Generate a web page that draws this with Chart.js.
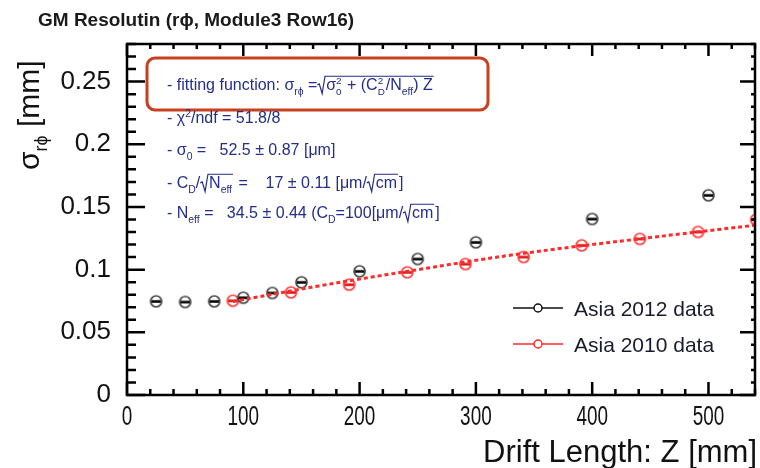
<!DOCTYPE html>
<html lang="en">
<head>
  <meta charset="UTF-8">
  <title>GM Resolution</title>
  <style>
    html, body { margin: 0; padding: 0; background: #fff; }
    #wrap { width: 760px; height: 468px; }
  </style>
</head>
<body>
  <div id="wrap"><canvas id="resChart" width="760" height="468"></canvas></div>

  <script src="https://cdn.jsdelivr.net/npm/chart.js"></script>
  <script>
    // Drift length Z [mm] and resolution sigma [mm]
    const z2012 = [25, 50, 75, 100, 125, 150, 200, 250, 300, 400, 500];
    const sigma2012 = [0.0747, 0.0742, 0.0747, 0.0776, 0.0814, 0.0899, 0.0987, 0.1085, 0.1218, 0.1404, 0.1593];

    const z2010 = [91, 141, 191, 241, 291, 341, 391, 441, 491, 541];
    const sigma2010 = [0.0752, 0.0819, 0.0880, 0.0979, 0.1045, 0.1101, 0.1194, 0.1245, 0.1301, 0.1399];

    // fitted curve for the 2010 data
    const zFit = [91, 165, 250, 337, 440, 545];
    const sigmaFit = [0.0745, 0.0870, 0.1000, 0.1125, 0.1245, 0.1360];

    const xTickValues = [0, 100, 200, 300, 400, 500];
    const yTickValues = [0, 0.05, 0.1, 0.15, 0.2, 0.25];

    const NAVY = '#232d8a';
    const RED = '#ff2a2a';
    const FONT = '"Liberation Sans", Arial, sans-serif';

    function pairs(xs, ys) {
      return xs.map((x, i) => ({ x: x, y: ys[i] }));
    }

    // open circle with a short horizontal error bar through it
    function makeMarker(ring, bar) {
      const r = 5.5;
      const c = document.createElement('canvas');
      c.width = c.height = 15;
      const g = c.getContext('2d');
      const m = 7.5;
      g.strokeStyle = ring;
      g.lineWidth = 1.7;
      g.beginPath();
      g.arc(m, m, r, 0, Math.PI * 2);
      g.stroke();
      g.fillStyle = bar;
      g.fillRect(m - r + 1, m - 1.2, 2 * r - 2, 2.6);
      return c;
    }

    // draws text runs with sub/superscripts and square roots
    function drawRich(ctx, segs, x, y, size) {
      let cx = x;
      for (const s of segs) {
        if (s.sqrt) {
          const lead = size * 0.55;
          const w = drawRich(ctx, s.sqrt, cx + lead, y, size);
          ctx.save();
          ctx.strokeStyle = ctx.fillStyle;
          ctx.lineWidth = 1.2;
          ctx.beginPath();
          ctx.moveTo(cx, y - size * 0.32);
          ctx.lineTo(cx + size * 0.12, y - size * 0.38);
          ctx.lineTo(cx + size * 0.3, y + size * 0.22);
          ctx.lineTo(cx + size * 0.48, y - size * 0.86);
          ctx.lineTo(cx + lead + w + 1, y - size * 0.86);
          ctx.stroke();
          ctx.restore();
          cx += lead + w + 2;
        } else if (s.stack) {
          ctx.font = (size * 0.62) + 'px ' + FONT;
          ctx.fillText(s.stack[0], cx, y - size * 0.38);
          ctx.fillText(s.stack[1], cx, y + size * 0.32);
          cx += Math.max(ctx.measureText(s.stack[0]).width, ctx.measureText(s.stack[1]).width) + 1;
        } else {
          const small = s.sub || s.sup;
          ctx.font = (small ? size * 0.65 : size) + 'px ' + FONT;
          const dy = s.sub ? size * 0.3 : (s.sup ? -size * 0.4 : 0);
          ctx.fillText(s.t, cx, y + dy);
          cx += ctx.measureText(s.t).width;
        }
      }
      return cx - x;
    }

    const fitLines = [
      [{ t: '- fitting function: σ' }, { t: 'rϕ', sub: true }, { t: ' =' },
        { sqrt: [{ t: 'σ' }, { stack: ['2', '0'] }, { t: ' + (C' }, { stack: ['2', 'D'] }, { t: '/N' }, { t: 'eff', sub: true }, { t: ') Z' }] }],
      [{ t: '- χ' }, { t: '2', sup: true }, { t: '/ndf = 51.8/8' }],
      [{ t: '- σ' }, { t: '0', sub: true }, { t: ' =   52.5 ± 0.87 [μm]' }],
      [{ t: '- C' }, { t: 'D', sub: true }, { t: '/' }, { sqrt: [{ t: 'N' }, { t: 'eff', sub: true }] },
        { t: ' =    17 ± 0.11 [μm/' }, { sqrt: [{ t: 'cm' }] }, { t: ']' }],
      [{ t: '- N' }, { t: 'eff', sub: true }, { t: ' =   34.5 ± 0.44 (C' }, { t: 'D', sub: true },
        { t: '=100[μm/' }, { sqrt: [{ t: 'cm' }] }, { t: ']' }]
    ];
    const fitBaselines = [90, 123, 155, 188, 218];

    const legendItems = [
      { label: 'Asia 2012 data', color: '#111', y: 308 },
      { label: 'Asia 2010 data', color: RED, y: 344 }
    ];

    function roundRect(ctx, x, y, w, h, r) {
      ctx.beginPath();
      ctx.moveTo(x + r, y);
      ctx.arcTo(x + w, y, x + w, y + h, r);
      ctx.arcTo(x + w, y + h, x, y + h, r);
      ctx.arcTo(x, y + h, x, y, r);
      ctx.arcTo(x, y, x + w, y, r);
      ctx.closePath();
    }

    const framePlugin = {
      id: 'frame',
      afterDraw(chart) {
        const ctx = chart.ctx;
        const a = chart.chartArea;
        const xs = chart.scales.x;
        const ys = chart.scales.y;
        ctx.save();

        // frame and inward ticks on all four sides
        ctx.strokeStyle = '#000';
        ctx.lineWidth = 2.5;
        ctx.strokeRect(a.left, a.top, a.right - a.left, a.bottom - a.top);
        ctx.beginPath();
        for (let i = 0; i * 20 <= xs.max; i++) {
          const px = xs.getPixelForValue(i * 20);
          const major = i % 5 === 0;
          ctx.moveTo(px, a.bottom);
          ctx.lineTo(px, a.bottom - (major ? 13 : 6));
          ctx.moveTo(px, a.top);
          ctx.lineTo(px, a.top + (major ? 12 : 5));
        }
        for (let i = 0; i / 100 <= ys.max; i++) {
          const py = ys.getPixelForValue(i / 100);
          const major = i % 5 === 0;
          ctx.moveTo(a.left, py);
          ctx.lineTo(a.left + (major ? 18 : 9), py);
          ctx.moveTo(a.right, py);
          ctx.lineTo(a.right - (major ? 15 : 4), py);
        }
        ctx.stroke();

        // x tick labels, narrow face
        ctx.fillStyle = '#111';
        ctx.font = '27px ' + FONT;
        ctx.textAlign = 'center';
        xTickValues.forEach(v => {
          ctx.save();
          ctx.translate(xs.getPixelForValue(v), 425);
          ctx.scale(0.7, 1);
          ctx.fillText(String(v), 0, 0);
          ctx.restore();
        });
        ctx.textAlign = 'left';

        // title
        ctx.fillStyle = '#1a1a1a';
        ctx.font = 'bold 19px ' + FONT;
        ctx.fillText('GM Resolutin (rϕ, Module3 Row16)', 38, 26);

        // x axis title
        ctx.fillStyle = '#111';
        ctx.font = '31px ' + FONT;
        ctx.textAlign = 'right';
        ctx.fillText('Drift Length: Z [mm]', 757, 462);
        ctx.textAlign = 'left';

        // y axis title
        ctx.save();
        ctx.translate(39, 170);
        ctx.rotate(-Math.PI / 2);
        ctx.font = '30px ' + FONT;
        ctx.fillText('σ', 0, 0);
        let w = ctx.measureText('σ').width;
        ctx.font = '18px ' + FONT;
        ctx.fillText('rϕ', w, 8);
        w += ctx.measureText('rϕ').width;
        ctx.font = '30px ' + FONT;
        ctx.fillText(' [mm]', w, 0);
        ctx.restore();

        // fit result box
        ctx.strokeStyle = '#c8401e';
        ctx.lineWidth = 3;
        roundRect(ctx, 147, 58, 341, 52, 8);
        ctx.stroke();
        ctx.fillStyle = NAVY;
        fitLines.forEach((segs, i) => drawRich(ctx, segs, 167, fitBaselines[i], 16));

        // legend
        ctx.font = '21px ' + FONT;
        legendItems.forEach(it => {
          ctx.strokeStyle = it.color;
          ctx.lineWidth = 1.5;
          ctx.beginPath();
          ctx.moveTo(513, it.y);
          ctx.lineTo(563, it.y);
          ctx.stroke();
          ctx.fillStyle = '#fff';
          ctx.beginPath();
          ctx.arc(538, it.y, 4, 0, Math.PI * 2);
          ctx.fill();
          ctx.stroke();
          ctx.fillStyle = '#1a1a2e';
          ctx.fillText(it.label, 574, it.y + 8);
        });

        ctx.restore();
      }
    };

    new Chart(document.getElementById('resChart'), {
      type: 'scatter',
      data: {
        datasets: [
          {
            label: 'Fit',
            type: 'line',
            data: pairs(zFit, sigmaFit),
            borderColor: RED,
            borderWidth: 3,
            borderDash: [4, 3],
            pointRadius: 0,
            tension: 0.35,
            fill: false
          },
          {
            label: 'Asia 2012 data',
            data: pairs(z2012, sigma2012),
            pointStyle: makeMarker('#444', '#000'),
            showLine: false
          },
          {
            label: 'Asia 2010 data',
            data: pairs(z2010, sigma2010),
            pointStyle: makeMarker('#ff3a3a', '#e01010'),
            showLine: false
          }
        ]
      },
      options: {
        responsive: false,
        animation: false,
        layout: { padding: { top: 44, right: 3, left: 0, bottom: 0 } },
        plugins: {
          legend: { display: false },
          tooltip: { enabled: false }
        },
        scales: {
          x: {
            type: 'linear',
            min: 0,
            max: 540,
            grid: { display: false },
            border: { display: false },
            afterBuildTicks: s => { s.ticks = xTickValues.map(v => ({ value: v })); },
            afterFit: s => { s.height = 73; },
            ticks: { display: false }
          },
          y: {
            type: 'linear',
            min: 0,
            max: 0.28,
            grid: { display: false },
            border: { display: false },
            afterBuildTicks: s => { s.ticks = yTickValues.map(v => ({ value: v })); },
            afterFit: s => { s.width = 127; },
            ticks: {
              color: '#111',
              padding: 8,
              font: { family: FONT, size: 26 },
              callback: v => String(v)
            }
          }
        }
      },
      plugins: [framePlugin]
    });
  </script>
</body>
</html>
